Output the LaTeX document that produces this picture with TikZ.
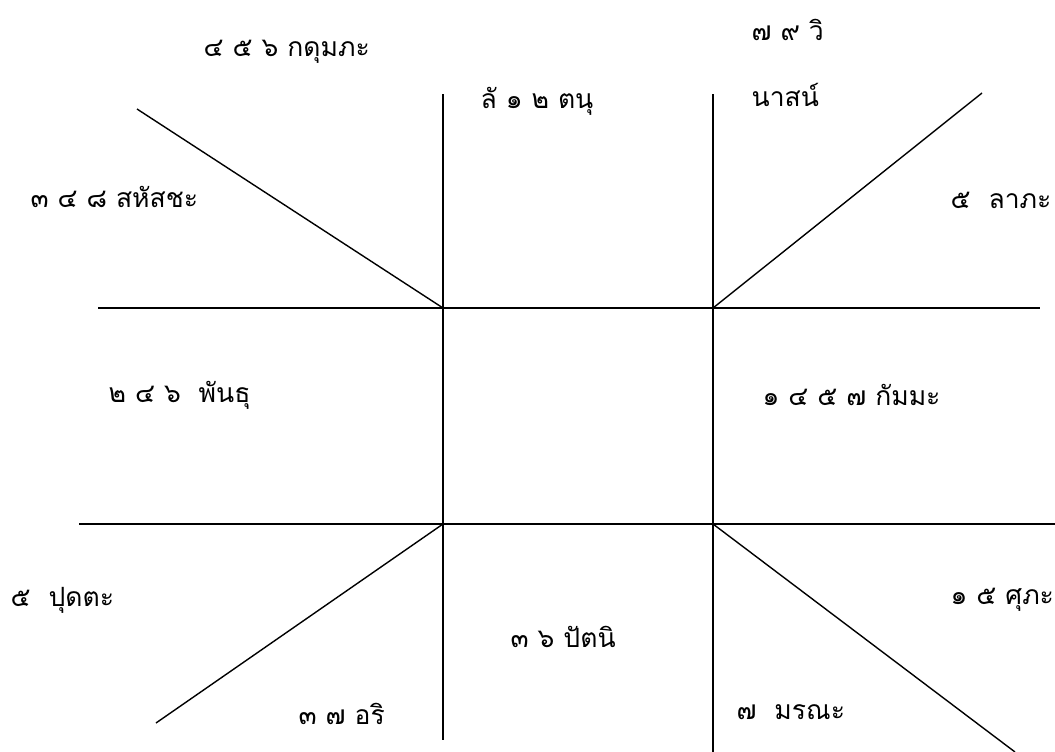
\documentclass[tikz,border=0pt]{standalone}
\usepackage{fontspec}
\setmainfont[Script=Thai]{Loma}
\usetikzlibrary{positioning}

\tikzset{house/.style={font=\fontsize{26.5}{30}\selectfont, inner sep=0pt, anchor=west}}

\begin{document}
\begin{tikzpicture}[x=1pt, y=-1pt, line width=1.4pt]

    \useasboundingbox (0,0) rectangle (1055,752);

    % Corners of the centre square
    \coordinate (tl) at (443,308);
    \coordinate (tr) at (713,308);
    \coordinate (bl) at (443,524);
    \coordinate (br) at (713,524);

    % --- GRID LINES ---
    \draw (98,308) -- (1040,308);
    \draw (79,524) -- (1055,524);
    \draw (443,94) -- (443,740);
    \draw (713,94) -- (713,752);

    % --- DIAGONALS ---
    \draw (137,109) -- (tl);
    \draw (tr) -- (982,93);
    \draw (bl) -- (156,723);
    \draw (br) -- (1015,752);

    % --- TOP ROW ---
    \node[house] (kadum) at (203,52) {๔ ๕ ๖ กดุมภะ};
    \node[house] (tanu) at (480,101) {ลั ๑ ๒ ตนุ};
    \node[house] (wi) at (751,30) {๗ ๙ วิ};
    \node[house] (nas) at (751,95) {นาสน์};
    \node[house] (sahat) at (30,197) {๓ ๔ ๘ สหัสชะ};
    \node[house] (lap) at (950,200) {๕\ \ ลาภะ};

    % --- MIDDLE ROW ---
    \node[house] (phan) at (108,395) {๒ ๔ ๖\ \ พันธุ};
    \node[house] (kam) at (762,395) {๑ ๔ ๕ ๗ กัมมะ};

    % --- BOTTOM ROW ---
    \node[house] (put) at (10,600) {๕\ \ ปุดตะ};
    \node[house] (pat) at (510,637) {๓ ๖ ปัตนิ};
    \node[house] (suph) at (950,600) {๑ ๕ ศุภะ};
    \node[house] (ari) at (298,714) {๓ ๗ อริ};
    \node[house] (mor) at (736,712) {๗\ \ มรณะ};

\end{tikzpicture}
\end{document}
